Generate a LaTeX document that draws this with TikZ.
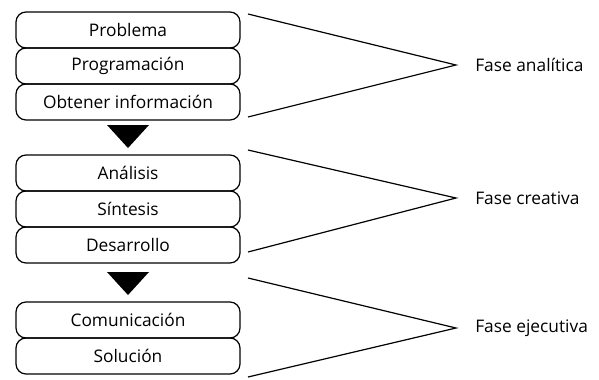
\documentclass[tikz,border=0pt]{standalone}
\usepackage{fontspec}
\setmainfont{Open Sans}
\begin{document}
\begin{tikzpicture}[x=0.75pt,y=-0.75pt,
  stagebox/.style={draw, line width=0.9pt, rounded corners=7.5pt, minimum width=168pt, minimum height=27pt, inner sep=0pt, font=\fontsize{13}{15}\selectfont},
  phase/.style={anchor=west, inner sep=0pt, font=\fontsize{13}{15}\selectfont},
  brace/.style={line width=0.9pt},
  arrowtri/.style={fill=black, draw=none}]
\useasboundingbox (0,0) rectangle (599,379);
\node[stagebox] (b1) at (128,30) {Problema};
\node[stagebox] (b2) at (128,66) {Programación};
\node[stagebox] (b3) at (128,102) {Obtener información};
\fill[arrowtri] (107,125) -- (149,125) -- (128,148) -- cycle;
\node[stagebox] (b4) at (128,173) {Análisis};
\node[stagebox] (b5) at (128,209) {Síntesis};
\node[stagebox] (b6) at (128,245) {Desarrollo};
\fill[arrowtri] (107,272) -- (149,272) -- (128,295) -- cycle;
\node[stagebox] (b7) at (128,320) {Comunicación};
\node[stagebox] (b8) at (128,356) {Solución};

\node[phase] (p1) at (475,65) {Fase analítica};
\node[phase] (p2) at (475,198) {Fase creativa};
\node[phase] (p3) at (475,328) {Fase ejecutiva};

\coordinate (t1) at (456,65);
\coordinate (a1) at (248,14);
\coordinate (a2) at (248,117);
\coordinate (t2) at (456,198);
\coordinate (c1) at (248,150);
\coordinate (c2) at (248,252);
\coordinate (t3) at (456,328);
\coordinate (e1) at (248,278);
\coordinate (e2) at (248,377);
\draw[brace] (a1) -- (t1) -- (a2);
\draw[brace] (c1) -- (t2) -- (c2);
\draw[brace] (e1) -- (t3) -- (e2);
\end{tikzpicture}
\end{document}
